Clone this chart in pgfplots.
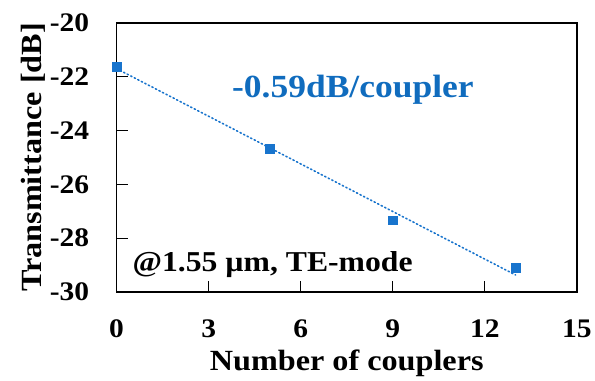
\documentclass[border=0pt]{standalone}
\usepackage{pgfplots}
\pgfplotsset{compat=1.18}
\usepackage{fontspec}
\setmainfont[FakeStretch=1.1]{Liberation Serif}
\definecolor{mblue}{RGB}{24,116,205}
\definecolor{tblue}{RGB}{16,108,190}
\begin{document}
\begin{tikzpicture}
\begin{axis}[
  scale only axis,
  width=462bp, height=270bp,
  xmin=0, xmax=15, ymin=-30, ymax=-20,
  xtick={0,3,6,9,12,15}, ytick={-30,-28,-26,-24,-22,-20},
  tick pos=left,
  tick align=inside,
  major tick length=11bp,
  axis line style={line width=1.3pt},
  every tick/.style={black, line width=1.2pt},
  /pgf/number format/assume math mode=true,
  ticklabel style={font=\fontsize{27}{29}\selectfont\bfseries},
  xticklabel style={yshift=-24bp},
  yticklabel style={xshift=-24bp},
  xlabel={Number of couplers},
  ylabel={Transmittance [dB]},
  label style={font=\fontsize{29.5}{31}\selectfont\bfseries},
  xlabel style={yshift=-6bp},
  ylabel style={yshift=-2bp},
  clip=false,
]
\addplot[mblue, dash pattern=on 1.4pt off 2.6pt, line cap=round, line width=1.6pt, forget plot] coordinates {(0,-21.70) (13,-29.37)};
\addplot[only marks, mark=square*, mark size=4.4bp, mblue] coordinates {
(0,-21.63) (5,-24.67) (9,-27.33) (13,-29.11)};
\node[text=tblue, font=\fontsize{32.5}{34}\selectfont\bfseries] at (axis cs:7.7,-22.48) {-0.59dB/coupler};
\node[anchor=west, font=\fontsize{29}{31}\selectfont\bfseries] at (axis cs:0.41,-29.0) {@1.55 µm, TE-mode};
\path ([yshift=23bp]rel axis cs:0,1);
\path ([xshift=-117bp,yshift=-87bp]rel axis cs:0,0);
\path ([xshift=16bp]rel axis cs:1,0);
\end{axis}
\end{tikzpicture}
\end{document}
